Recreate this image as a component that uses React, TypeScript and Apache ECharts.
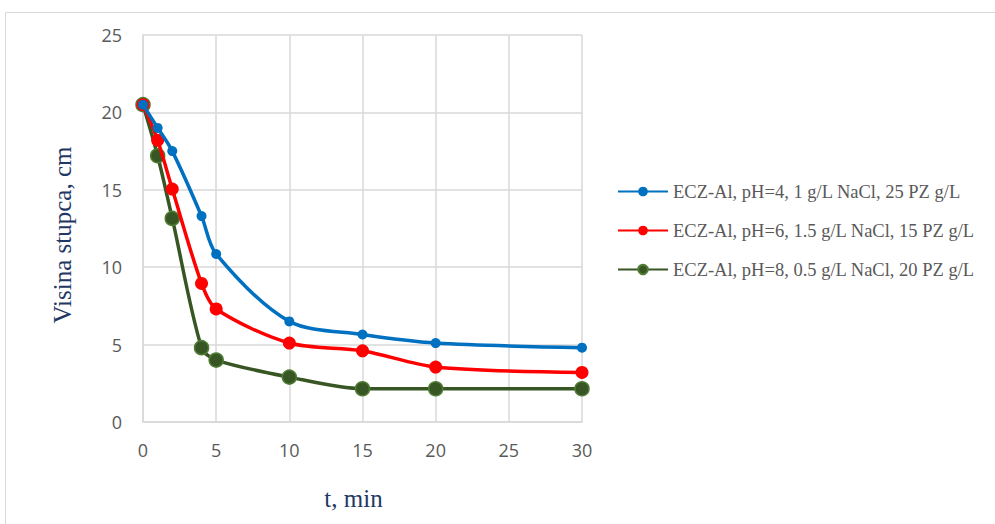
import React, { useEffect, useRef } from "react";
import * as echarts from "echarts";

const times = [0, 1, 2, 4, 5, 10, 15, 20, 30];
const seriesNames = [
  "ECZ-Al, pH=4, 1 g/L NaCl, 25 PZ g/L",
  "ECZ-Al, pH=6, 1.5 g/L NaCl, 15 PZ g/L",
  "ECZ-Al, pH=8, 0.5 g/L NaCl, 20 PZ g/L",
];
const blueValues = [20.5, 19.0, 17.5, 13.3, 10.85, 6.5, 5.65, 5.1, 4.8];
const redValues = [20.5, 18.2, 15.05, 8.95, 7.3, 5.1, 4.6, 3.55, 3.2];
const greenValues = [20.5, 17.2, 13.15, 4.8, 4.0, 2.9, 2.15, 2.15, 2.15];
const colors = ["#0070C0", "#FF0000", "#375623"];
const yTicks = [0, 5, 10, 15, 20, 25];
const xTicks = [0, 5, 10, 15, 20, 25, 30];

export default function App() {
  const ref = useRef<HTMLDivElement>(null);
  useEffect(() => {
    const chart = echarts.init(ref.current!, null, { renderer: "svg" });
    const all = [blueValues, redValues, greenValues];
    const sizes = [10, 13, 14];
    chart.setOption({
      animation: false,
      backgroundColor: "#ffffff",
      graphic: [
        {
          type: "rect",
          shape: { x: 5.5, y: 12.5, width: 1000, height: 600 },
          style: { fill: "none", stroke: "#d9d9d9", lineWidth: 1 },
          silent: true,
        },
      ],
      grid: { left: 143, right: 413, top: 35, bottom: 102 },
      legend: {
        orient: "vertical",
        left: 612,
        top: 177,
        itemGap: 20,
        itemWidth: 50,
        itemHeight: 12,
        data: seriesNames,
        textStyle: { fontFamily: "Liberation Serif", fontSize: 18.5, color: "#595959" },
      },
      xAxis: {
        type: "value",
        min: xTicks[0],
        max: xTicks[xTicks.length - 1],
        interval: 5,
        name: "t, min",
        nameLocation: "middle",
        nameGap: 64,
        nameTextStyle: {
          fontFamily: "Liberation Serif",
          fontSize: 25,
          color: "#1F3864",
          padding: [0, 18, 0, 0],
        },
        axisLine: { lineStyle: { color: "#d9d9d9", width: 1.5 } },
        axisTick: { show: false },
        axisLabel: { fontFamily: "Open Sans", fontSize: 18, color: "#595959", margin: 19 },
        splitLine: { show: true, lineStyle: { color: "#d9d9d9", width: 1.5 } },
      },
      yAxis: {
        type: "value",
        min: yTicks[0],
        max: yTicks[yTicks.length - 1],
        interval: 5,
        name: "Visina stupca, cm",
        nameLocation: "middle",
        nameGap: 68,
        nameTextStyle: {
          fontFamily: "Liberation Serif",
          fontSize: 25,
          color: "#1F3864",
          padding: [0, 13, 0, 0],
        },
        axisLine: { show: true, lineStyle: { color: "#d9d9d9", width: 1.5 } },
        axisTick: { show: false },
        axisLabel: { fontFamily: "Open Sans", fontSize: 18, color: "#595959", margin: 21 },
        splitLine: { show: true, lineStyle: { color: "#d9d9d9", width: 1.5 } },
      },
      series: all.map((vals, i) => ({
        name: seriesNames[i],
        type: "line",
        data: times.map((t, k) => [t, vals[k]]),
        smooth: 0.3,
        symbol: "circle",
        symbolSize: sizes[i],
        lineStyle: { color: colors[i], width: 3.5 },
        itemStyle: {
          color: colors[i],
          borderColor: i === 2 ? "#507d36" : colors[i],
          borderWidth: i === 2 ? 1.5 : 0,
        },
        z: 2 + (2 - i),
      })),
    });
    return () => chart.dispose();
  }, []);
  return (
    <div
      ref={ref}
      style={{ position: "fixed", left: 0, top: 0, width: 995, height: 524 }}
    />
  );
}
